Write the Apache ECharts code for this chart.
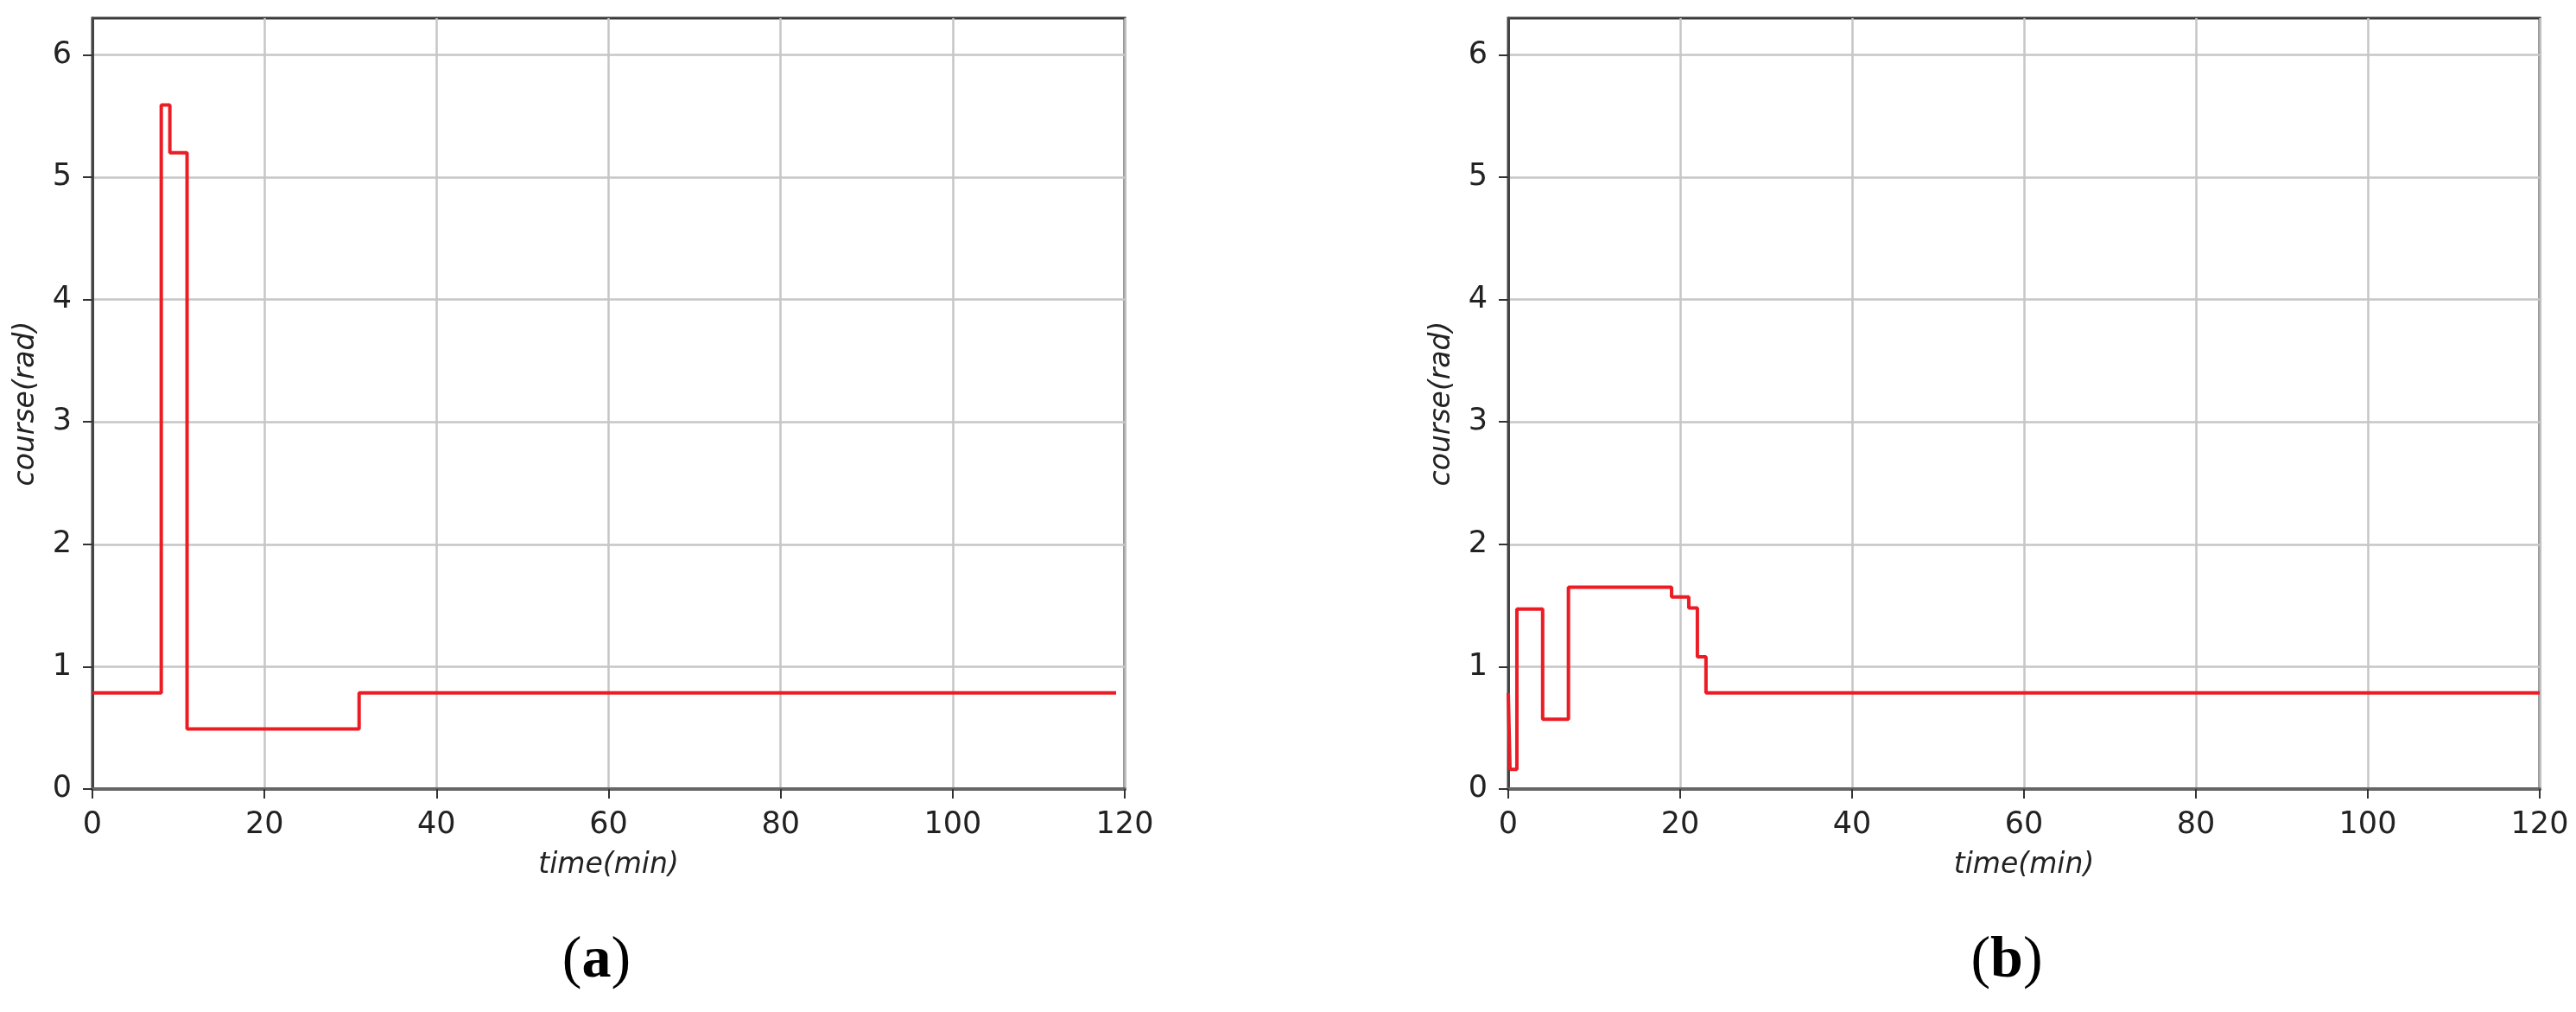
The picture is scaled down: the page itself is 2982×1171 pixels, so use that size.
<!DOCTYPE html>
<html>
<head>
<meta charset="utf-8">
<script src="https://cdn.jsdelivr.net/npm/echarts@6/dist/echarts.min.js"></script>
<style>
  html, body { margin: 0; padding: 0; background: #fff; }
  #chart { width: 2982px; height: 1171px; }
</style>
</head>
<body>
<div id="chart"></div>
<script>
  // (a) course over time, step changes
  const timesA = [0, 8, 9, 11, 31, 119];
  const courseA = [0.785, 5.59, 5.2, 0.49, 0.785, 0.785];

  // (b)
  const timesB = [0, 0.2, 1, 4, 7, 19, 21, 22, 23, 120];
  const courseB = [0.785, 0.16, 1.47, 0.57, 1.65, 1.57, 1.48, 1.08, 0.785, 0.785];

  const xTicks = [0, 20, 40, 60, 80, 100, 120];
  const yTicks = [0, 1, 2, 3, 4, 5, 6];
  const panelLabels = ['a', 'b'];

  const zip = (xs, ys) => xs.map((x, i) => [x, ys[i]]);

  const grids = [
    { left: 107, top: 21, width: 1195, height: 892 },
    { left: 1746, top: 21, width: 1194, height: 892 },
  ];

  const tickFont = { fontFamily: 'DejaVu Sans', fontSize: 35, color: '#222' };
  const nameFont = { fontFamily: 'DejaVu Sans', fontStyle: 'italic', fontSize: 33, color: '#222' };

  const xAxis = grids.map((g, i) => ({
    type: 'value',
    gridIndex: i,
    min: 0,
    max: 120,
    interval: 20,
    name: 'time(min)',
    nameLocation: 'middle',
    nameGap: 72,
    nameTextStyle: nameFont,
    axisLine: { lineStyle: { color: '#666', width: 4 } },
    axisTick: { show: true, length: 11, customValues: xTicks, lineStyle: { color: '#333', width: 2 } },
    axisLabel: Object.assign({ margin: 24, customValues: xTicks }, tickFont),
    splitLine: { show: true, lineStyle: { color: '#c6c6c6', width: 2.5 } },
  }));

  const yAxis = grids.map((g, i) => ({
    type: 'value',
    gridIndex: i,
    min: 0,
    max: 6.3,
    interval: 1,
    name: 'course(rad)',
    nameLocation: 'middle',
    nameGap: 60,
    nameTextStyle: nameFont,
    axisLine: { lineStyle: { color: '#444', width: 3 } },
    axisTick: { show: true, length: 11, customValues: yTicks, lineStyle: { color: '#333', width: 2 } },
    axisLabel: Object.assign({ margin: 24, customValues: yTicks }, tickFont),
    splitLine: { show: true, lineStyle: { color: '#c6c6c6', width: 2.5 } },
  }));

  const series = [zip(timesA, courseA), zip(timesB, courseB)].map((data, i) => ({
    type: 'line',
    xAxisIndex: i,
    yAxisIndex: i,
    step: 'end',
    symbol: 'none',
    data,
    lineStyle: { color: '#ec1c24', width: 4 },
    animation: false,
  }));

  const myChart = echarts.init(document.getElementById('chart'));
  myChart.setOption({
    backgroundColor: '#fff',
    animation: false,
    grid: grids.map((g) => Object.assign({ show: true, borderColor: '#3a3a3a', borderWidth: 3 }, g)),
    xAxis,
    yAxis,
    series,
    graphic: panelLabels.map((p, i) => ({
      type: 'text',
      x: grids[i].left + grids[i].width / 2 - 14 - i * 6,
      y: 1112,
      style: {
        text: '{p|(}{b|' + p + '}{p|)}',
        align: 'center',
        verticalAlign: 'middle',
        rich: {
          p: { fontFamily: 'Liberation Serif', fontSize: 68, fill: '#000' },
          b: { fontFamily: 'Liberation Serif', fontSize: 68, fontWeight: 'bold', fill: '#000' },
        },
      },
    })),
  });
</script>
</body>
</html>
